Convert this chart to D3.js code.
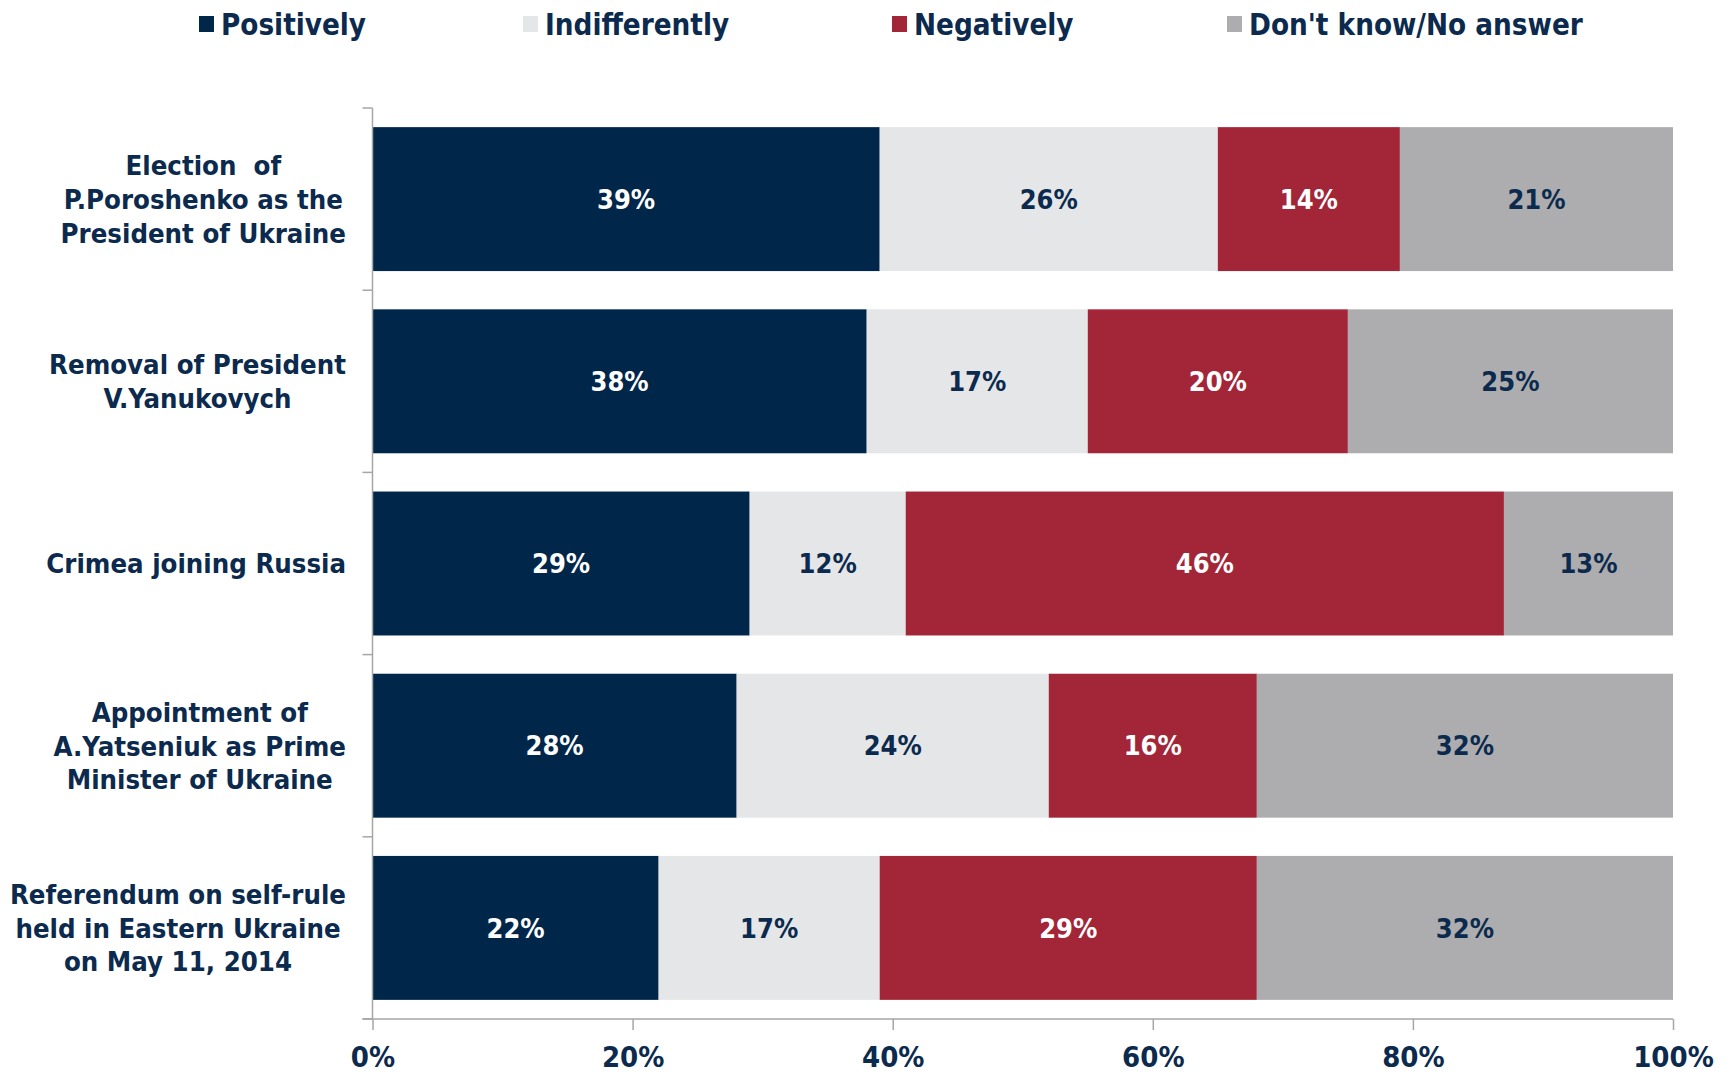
<!DOCTYPE html>
<html>
<head>
<meta charset="utf-8">
<script src="https://cdn.jsdelivr.net/npm/d3@7"></script>
<style>
  html, body { margin: 0; padding: 0; background: #ffffff; }
  svg { display: block; }
  text { white-space: pre; }
</style>
</head>
<body>
<svg id="chart" width="1733" height="1075"></svg>
<script>
const categories = [
  ["Election  of", "P.Poroshenko as the", "President of Ukraine"],
  ["Removal of President", "V.Yanukovych"],
  ["Crimea joining Russia"],
  ["Appointment of", "A.Yatseniuk as Prime", "Minister of Ukraine"],
  ["Referendum on self-rule", "held in Eastern Ukraine", "on May 11, 2014"]
];
const seriesNames = ["Positively", "Indifferently", "Negatively", "Don't know/No answer"];
const positively    = [39, 38, 29, 28, 22];
const indifferently = [26, 17, 12, 24, 17];
const negatively    = [14, 20, 46, 16, 29];
const dontKnow      = [21, 25, 13, 32, 32];
const tickValues = [0, 20, 40, 60, 80, 100];

const colors = ["#00264a", "#e5e6e8", "#a32638", "#adadaf"];
const labelColors = ["#ffffff", "#0b2a4d", "#ffffff", "#0b2a4d"];
const navy = "#0b2a4d";
const axisGray = "#a6a6a6";

const svg = d3.select("#chart");
const margin = {left: 372.5, right: 60, top: 108, bottom: 56};
const W = 1733, H = 1075;
const x = d3.scaleLinear().domain([0, 100]).range([margin.left, W - margin.right]);
const keys = categories.map((c, i) => i);
const y = d3.scaleBand().domain(keys).range([margin.top, H - margin.bottom]).paddingInner(0.21).paddingOuter(0.105);

const rows = keys.map(i => ({
  i,
  Positively: positively[i],
  Indifferently: indifferently[i],
  Negatively: negatively[i],
  "Don't know/No answer": dontKnow[i]
}));
const stack = d3.stack().keys(seriesNames)(rows);

const fontFam = "'DejaVu Sans Condensed', 'DejaVu Sans', sans-serif";

// bars
const layers = svg.append("g").selectAll("g").data(stack).join("g")
  .attr("fill", (d, k) => colors[k]);
layers.selectAll("rect").data(d => d).join("rect")
  .attr("x", d => x(d[0]))
  .attr("y", d => y(d.data.i))
  .attr("width", d => x(d[1]) - x(d[0]))
  .attr("height", y.bandwidth());

// value labels
stack.forEach((layer, k) => {
  svg.append("g").selectAll("text").data(layer).join("text")
    .attr("x", d => (x(d[0]) + x(d[1])) / 2)
    .attr("y", d => y(d.data.i) + y.bandwidth() / 2)
    .attr("dy", "0.36em")
    .attr("text-anchor", "middle")
    .attr("font-family", fontFam)
    .attr("font-weight", "bold")
    .attr("font-size", 27)
    .attr("fill", labelColors[k])
    .text(d => (d[1] - d[0]) + "%");
});

// left axis line & ticks at band boundaries
const yTop = margin.top, yBot = H - margin.bottom;
svg.append("line").attr("x1", x(0)).attr("x2", x(0)).attr("y1", yTop).attr("y2", yBot)
  .attr("stroke", axisGray).attr("stroke-width", 1.5);
const bounds = keys.map(i => y(i) - y.step() * y.paddingInner() / 2).concat([yBot]);
svg.append("g").selectAll("line").data(bounds).join("line")
  .attr("x1", x(0) - 10).attr("x2", x(0)).attr("y1", d => d).attr("y2", d => d)
  .attr("stroke", axisGray).attr("stroke-width", 1.5);

// bottom axis
const xAxis = d3.axisBottom(x).tickValues(tickValues).tickSize(11).tickPadding(16)
  .tickFormat(d => d + "%");
const gx = svg.append("g").attr("transform", `translate(0,${yBot})`).call(xAxis);
gx.select(".domain").attr("stroke", axisGray).attr("stroke-width", 1.5)
  .attr("d", `M${x(0) - 10},0H${x(100)}`);
gx.selectAll(".tick line").attr("stroke", axisGray).attr("stroke-width", 1.5);
gx.selectAll(".tick text").attr("fill", navy).attr("font-family", fontFam)
  .attr("font-weight", "bold").attr("font-size", 29);

// category labels
const labelRight = 346;
const lineH = 33.7;
categories.forEach((lines, i) => {
  const g = svg.append("g");
  const cy = y(i) + y.bandwidth() / 2;
  const t = g.selectAll("text").data(lines).join("text")
    .attr("y", (d, j) => cy + (j - (lines.length - 1) / 2) * lineH)
    .attr("dy", "0.36em")
    .attr("text-anchor", "middle")
    .attr("font-family", fontFam)
    .attr("font-weight", "bold")
    .attr("font-size", 27.3)
    .attr("fill", navy)
    .text(d => d);
  let maxW = 0;
  t.each(function() { maxW = Math.max(maxW, this.getComputedTextLength()); });
  t.attr("x", labelRight - maxW / 2);
});

// legend
const legendX = [199, 523, 892, 1227];
const lg = svg.append("g").selectAll("g").data(seriesNames).join("g")
  .attr("transform", (d, k) => `translate(${legendX[k]},0)`);
lg.append("rect").attr("x", 0).attr("y", 16).attr("width", 15).attr("height", 16)
  .attr("fill", (d, k) => colors[k]);
lg.append("text").attr("x", 22).attr("y", 24).attr("dy", "0.36em")
  .attr("font-family", fontFam).attr("font-weight", "bold").attr("font-size", 29.3)
  .attr("fill", navy).text(d => d);
</script>
</body>
</html>
